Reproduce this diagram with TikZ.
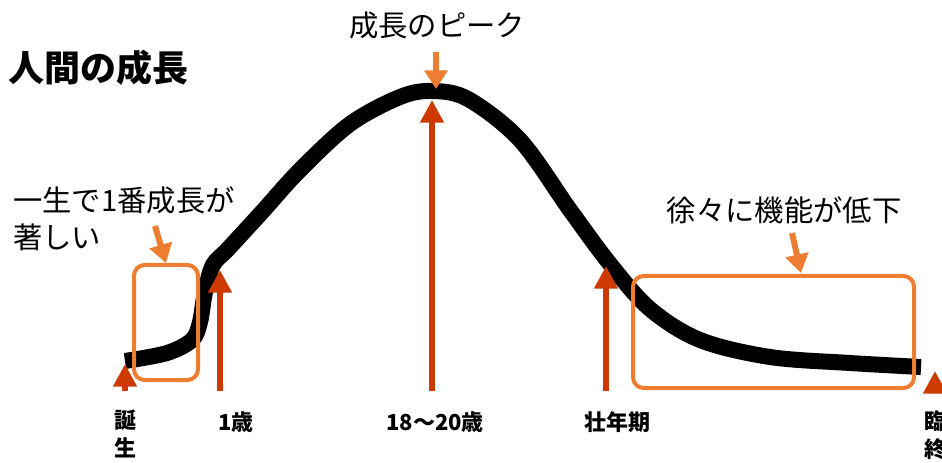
\documentclass[tikz,border=0pt]{standalone}
\usepackage{fontspec}
\setmainfont{Noto Sans CJK JP}
\usepackage{tikz}
\usetikzlibrary{arrows.meta,calc}
\definecolor{lifered}{HTML}{CC3A00}
\definecolor{lifeorange}{HTML}{ED7D31}
\newcommand{\base}{391}
\tikzset{
  agearrow/.style={draw=lifered,line width=4.5pt,-{Triangle[width=17pt,length=17pt]},fill=lifered},
  notearrow/.style={draw=lifeorange,line width=4.5pt,-{Triangle[width=17pt,length=14pt]},fill=lifeorange},
  notebox/.style={draw=lifeorange,line width=3pt,rounded corners=8pt},
  agelabel/.style={font=\fontsize{16.5}{21}\selectfont\bfseries,anchor=center,inner sep=0pt,align=center},
  notelabel/.style={font=\fontsize{22}{28}\selectfont,inner sep=0pt,align=left}
}
\begin{document}
\begin{tikzpicture}[x=0.75pt,y=-0.75pt]
\useasboundingbox (0,0) rectangle (942,463);
% growth curve
\draw[line width=12pt] plot[smooth,tension=0.55] coordinates {(125,361) (167,353) (192,340) (200,322) (205,292) (213,265) (228,249) (262,212) (300,170) (350,124) (400,97) (432,91) (468,99) (520,140) (570,210) (610,264) (650,309) (700,340) (770,357) (850,363) (921,367)};
% boxes
\draw[notebox] (134,265) rectangle (198,380);
\draw[notebox] (633,276) rectangle (914,388);
% age arrows
\coordinate (birthtip) at (125,364);
\coordinate (onetip) at (220,270);
\coordinate (peaktip) at (432,100);
\coordinate (primetip) at (606,266);
\coordinate (endtip) at (935,371);
\draw[agearrow] (125,\base) -- (birthtip);
\draw[agearrow] (220,\base) -- (onetip);
\draw[agearrow] (432,\base) -- (peaktip);
\draw[agearrow] (606,\base) -- (primetip);
\draw[agearrow] (935,\base) -- (endtip);
% labels below
\node[agelabel,anchor=north] (birth) at (125,410) {誕\\生};
\node[agelabel] (one) at (236,422) {1歳};
\node[agelabel] (peak) at (435,422) {18〜20歳};
\node[agelabel] (prime) at (617,422) {壮年期};
\node[agelabel,anchor=north west] (end) at (924,410) {臨\\終};
% notes
\node[font=\fontsize{27}{32}\selectfont\bfseries,anchor=west,inner sep=0pt] (title) at (8,68) {人間の成長};
\node[notelabel] (top) at (437,25) {成長のピーク};
\node[notelabel,anchor=west] (early) at (13,219) {一生で1番成長が\\著しい};
\node[notelabel] (late) at (784,210) {徐々に機能が低下};
\draw[notearrow] (436,52) -- (436,89);
\draw[notearrow] (155,226) -- (166,263);
\draw[notearrow] (792,233) -- (801,273);
\end{tikzpicture}
\end{document}
